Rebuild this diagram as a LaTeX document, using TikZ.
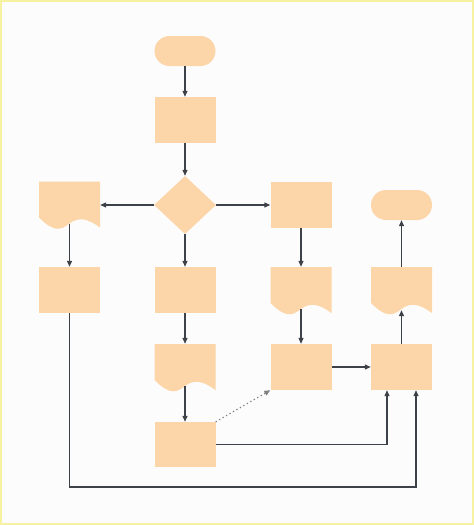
\documentclass[tikz,border=0pt]{standalone}
\usepackage{tikz}
\usetikzlibrary{positioning, arrows.meta, shapes.geometric}
\definecolor{boxfill}{HTML}{FCD5A8}
\definecolor{linegray}{HTML}{3D4148}
\definecolor{pagebg}{HTML}{FCFCFC}
\definecolor{framey}{HTML}{F7F2A2}
\tikzset{
    term/.style={fill=boxfill, rounded corners=15pt, minimum width=61pt, minimum height=30pt, inner sep=0pt},
    proc/.style={fill=boxfill, minimum width=61pt, minimum height=46pt, inner sep=0pt},
    decide/.style={diamond, fill=boxfill, minimum width=62pt, minimum height=58pt, inner sep=0pt},
    docbox/.style={fill=pagebg, minimum width=61pt, minimum height=47pt, inner sep=0pt,
        path picture={
            \fill[boxfill] (path picture bounding box.north west) -- (path picture bounding box.north east)
                -- ([yshift=1pt]path picture bounding box.south east)
                .. controls ([xshift=48.8pt, yshift=10pt]path picture bounding box.south west)
                and ([xshift=39.65pt, yshift=12pt]path picture bounding box.south west)
                .. ([xshift=30.5pt, yshift=5pt]path picture bounding box.south west)
                .. controls ([xshift=21.35pt, yshift=-2pt]path picture bounding box.south west)
                and ([xshift=15.25pt, yshift=-4pt]path picture bounding box.south west)
                .. ([yshift=11pt]path picture bounding box.south west) -- cycle;
        }},
    flow/.style={draw=linegray, line width=1.2pt, -{Triangle[length=6pt, width=5pt]}},
}

\begin{document}
\begin{tikzpicture}[x=1pt, y=-1pt]
    \useasboundingbox (0,0) rectangle (474,525);
    \fill[pagebg] (0,0) rectangle (474,525);
    \draw[framey, line width=2pt] (1,1) rectangle (473,524);

    % first rows
    \node (start) [term] at (185,51) {};
    \node (p1) [proc] at (185,120) {};
    \node (dec) [decide] at (185,205) {};
    \node (d1) [docbox] at (69.5,205) {};
    \node (p2) [proc] at (301,205) {};
    \node (stop) [term] at (401.5,205) {};
    % second row
    \node (p3) [proc] at (69.5,290) {};
    \node (p4) [proc] at (185,290) {};
    \node (d2) [docbox] at (301,290.5) {};
    \node (d3) [docbox] at (401.5,290.5) {};
    % third row
    \node (d4) [docbox] at (185,367.5) {};
    \node (p5) [proc] at (301,367) {};
    \node (p6) [proc] at (401.5,367) {};
    % last box
    \node (p7) [proc, minimum height=45pt] at (185,444.5) {};
    \coordinate (base) at (0,487);

    \draw [flow] (start) -- (p1);
    \draw [flow] (p1) -- (dec);
    \draw [flow] (dec) -- (d1);
    \draw [flow] (dec) -- (p2);
    \draw [flow] (dec) -- (p4);
    \draw [flow, shorten <=-5pt] (d1) -- (p3);
    \draw [flow] (p2) -- (d2);
    \draw [flow, shorten <=-5pt] (d2) -- (p5);
    \draw [flow] (p4) -- (d4);
    \draw [flow, shorten <=-5pt] (d4) -- (p7);
    \draw [flow] (p5) -- (p6);
    \draw [flow, shorten >=-4pt] (p6) -- (d3);
    \draw [flow] (d3) -- (stop);
    \draw [flow, draw=gray, dash pattern=on 1.2pt off 2.8pt] (p7.north east) -- (p5.south west);
    \draw [flow] (p7.east) -| ([xshift=-14.5pt]p6.south);
    \draw [flow] (p3.south) -- (p3.south |- base) -| ([xshift=14.5pt]p6.south);
\end{tikzpicture}
\end{document}
